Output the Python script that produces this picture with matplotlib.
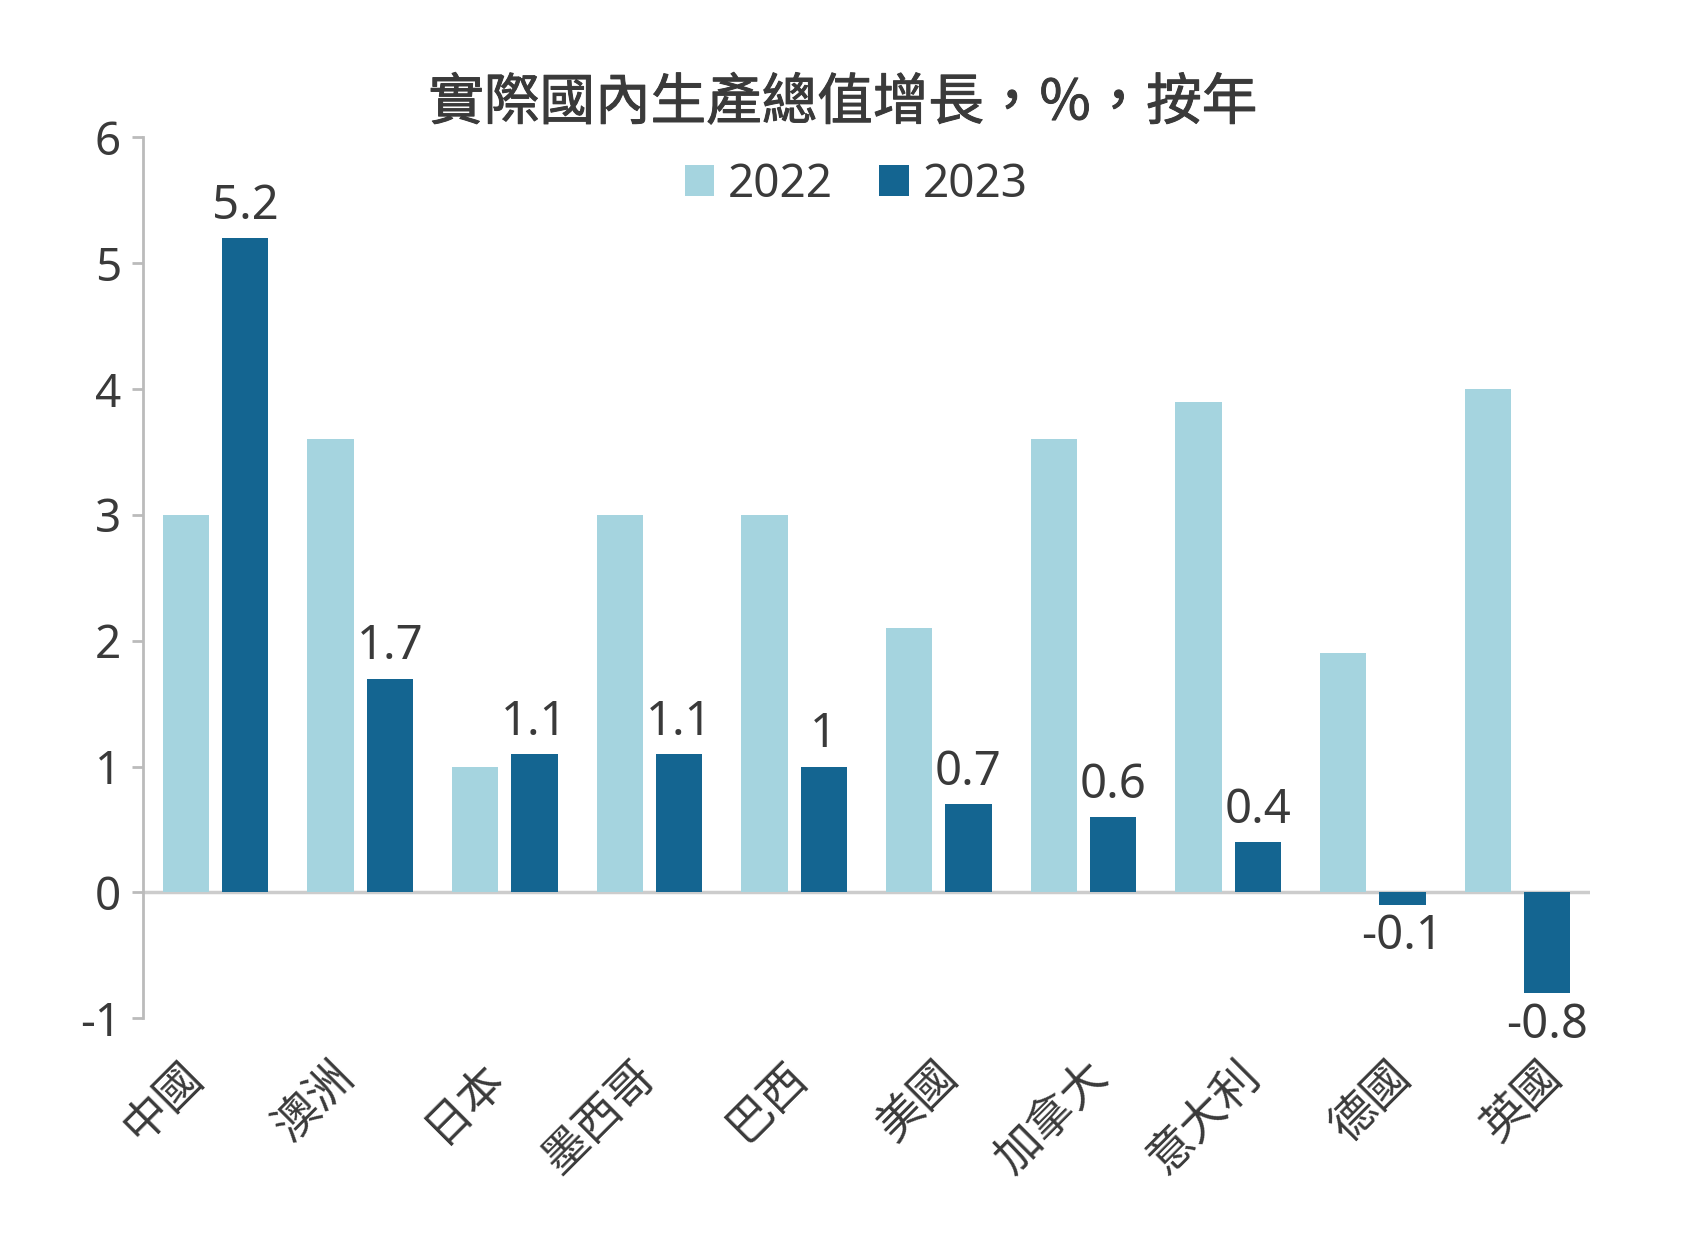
import matplotlib
matplotlib.use("Agg")
import matplotlib.pyplot as plt
import matplotlib.patheffects as pe
import numpy as np

plt.rcParams['font.family'] = ['Noto Sans', 'Noto Sans CJK TC', 'DejaVu Sans']
CJK = ['Noto Sans CJK TC', 'DejaVu Sans']

categories = ["中國", "澳洲", "日本", "墨西哥", "巴西", "美國", "加拿大", "意大利", "德國", "英國"]
gdp_2022 = [3.0, 3.6, 1.0, 3.0, 3.0, 2.1, 3.6, 3.9, 1.9, 4.0]
gdp_2023 = [5.2, 1.7, 1.1, 1.1, 1.0, 0.7, 0.6, 0.4, -0.1, -0.8]
labels_2023 = ["5.2", "1.7", "1.1", "1.1", "1", "0.7", "0.6", "0.4", "-0.1", "-0.8"]
series_names = ["2022", "2023"]
yticks = [-1, 0, 1, 2, 3, 4, 5, 6]

c_light = "#A5D4DF"
c_dark = "#146591"
txt = "#3a3a3a"
NUM_FS = 33

fig = plt.figure(figsize=(16.95, 12.48), dpi=100)
pos = [0.0844, 0.184, 0.8536, 0.706]
ax = fig.add_axes(pos)

x = np.arange(len(categories))
w = 0.32
off = 0.205
b1 = ax.bar(x - off, gdp_2022, w, color=c_light, label=series_names[0], zorder=2)
b2 = ax.bar(x + off, gdp_2023, w, color=c_dark, label=series_names[1], zorder=2)

for xi, v, lab in zip(x, gdp_2023, labels_2023):
    if v >= 0:
        ax.annotate(lab, (xi + off, v), xytext=(0, 6), textcoords="offset points",
                    ha="center", va="bottom", fontsize=NUM_FS + 1, color=txt)
    else:
        ax.annotate(lab, (xi + off, v), xytext=(0, -6), textcoords="offset points",
                    ha="center", va="top", fontsize=NUM_FS + 1, color=txt)

ax.set_xlim(-0.5, len(categories) - 0.5)
ax.set_ylim(-1, 6)
ax.set_yticks(yticks)
ax.set_yticklabels([str(t) for t in yticks], fontsize=NUM_FS, color=txt)
ax.axhline(0, color="#cccccc", lw=2.5, zorder=1)

for s in ["top", "right", "bottom"]:
    ax.spines[s].set_visible(False)
ax.spines["left"].set_color("#bbbbbb")
ax.spines["left"].set_linewidth(2)
ax.tick_params(axis="y", length=8, width=2, color="#bbbbbb", pad=8)
ax.set_xticks([])

# category labels on an overlay axis (labels spread slightly wider than bars)
axl = fig.add_axes(pos, frameon=False)
axl.set_xlim(-0.23, 9.35)
axl.set_ylim(0, 1)
axl.set_yticks([])
axl.set_xticks(x)
axl.set_xticklabels(categories, rotation=45, ha="right", va="top",
                    rotation_mode="anchor", fontsize=33, color=txt, family=CJK)
axl.tick_params(axis="x", length=0, pad=24)
axl.patch.set_visible(False)

fig.text(0.497, 0.917, "實際國內生產總值增長，%，按年", ha="center", va="center",
         fontsize=40, color=txt, family=CJK,
         path_effects=[pe.withStroke(linewidth=0.7, foreground=txt)])

fig.legend(handles=[b1, b2], labels=series_names, loc="center", bbox_to_anchor=(0.505, 0.852),
           ncol=2, frameon=False, fontsize=NUM_FS, handlelength=0.65, handleheight=0.65,
           handletextpad=0.3, columnspacing=1.0, labelcolor=txt)

fig.savefig("out.png", dpi=100, facecolor="white")
